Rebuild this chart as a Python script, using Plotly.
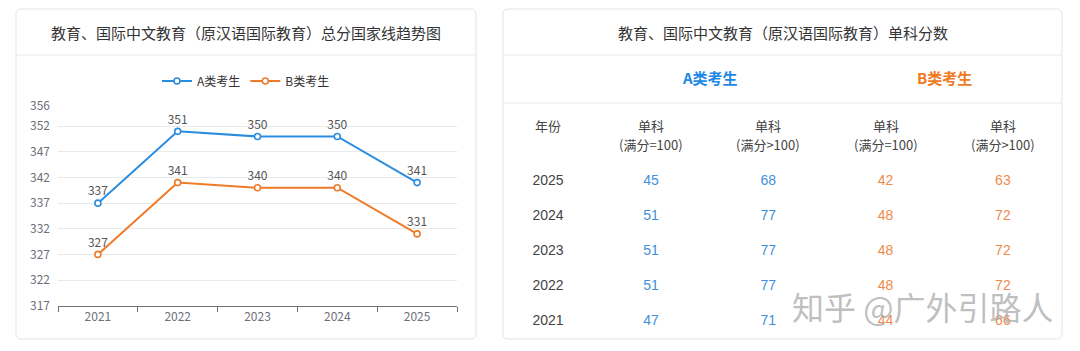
import plotly.graph_objects as go

# ---------------- data ----------------
years = ["2021", "2022", "2023", "2024", "2025"]
total_a = [337, 351, 350, 350, 341]
total_b = [327, 341, 340, 340, 331]
y_ticks = [317, 322, 327, 332, 337, 342, 347, 352, 356]

table_years = ["2025", "2024", "2023", "2022", "2021"]
a_single_100 = [45, 51, 51, 51, 47]
a_single_gt100 = [68, 77, 77, 77, 71]
b_single_100 = [42, 48, 48, 48, 44]
b_single_gt100 = [63, 72, 72, 72, 66]

col_top = ["年份", "单科", "单科", "单科", "单科"]
col_sub = ["", "(满分=100)", "(满分>100)", "(满分=100)", "(满分>100)"]
group_headers = ["A类考生", "B类考生"]
series_names = ["A类考生", "B类考生"]

chart_title = "教育、国际中文教育（原汉语国际教育）总分国家线趋势图"
table_title = "教育、国际中文教育（原汉语国际教育）单科分数"
watermark = "知乎 @广外引路人"

# ---------------- style ----------------
W, H = 1080, 351
BLUE = "#2a8de0"
ORANGE = "#ee7a2a"
T_BLUE = "#3f8fdc"
T_ORANGE = "#ef8a4a"
FONT = "Noto Sans CJK SC"
NUMFONT = "Liberation Sans, Arial, Noto Sans CJK SC"
COL_X = [0.122, 1, 2, 3, 4]


def px(x):
    return x / W


def py(y):
    return 1 - y / H


def rrect(x0, y0, x1, y1, r):
    pts = [
        ("M", [(x0 + r, y0)]), ("L", [(x1 - r, y0)]), ("Q", [(x1, y0), (x1, y0 + r)]),
        ("L", [(x1, y1 - r)]), ("Q", [(x1, y1), (x1 - r, y1)]), ("L", [(x0 + r, y1)]),
        ("Q", [(x0, y1), (x0, y1 - r)]), ("L", [(x0, y0 + r)]), ("Q", [(x0, y0), (x0 + r, y0)]),
    ]
    s = ""
    for cmd, ps in pts:
        s += cmd + " " + " ".join(f"{px(a):.5f},{py(b):.5f}" for a, b in ps) + " "
    return s + "Z"


fig = go.Figure()

# ---------------- line chart ----------------
for name, vals, col in [(series_names[0], total_a, BLUE), (series_names[1], total_b, ORANGE)]:
    fig.add_trace(go.Scatter(
        x=years, y=vals, name=name, mode="lines+markers+text",
        text=[str(v) for v in vals], textposition="top center",
        textfont=dict(family=FONT, size=12, color="#555555"),
        line=dict(color=col, width=2),
        marker=dict(symbol="circle", size=6, color="white", line=dict(color=col, width=1.6)),
        cliponaxis=False, hoverinfo="skip",
    ))

# ---------------- table (text traces on hidden axes) ----------------
rows = list(range(len(table_years)))
table_cols = [
    (table_years, "#444444"),
    ([str(v) for v in a_single_100], T_BLUE),
    ([str(v) for v in a_single_gt100], T_BLUE),
    ([str(v) for v in b_single_100], T_ORANGE),
    ([str(v) for v in b_single_gt100], T_ORANGE),
]
for k, (vals, col) in enumerate(table_cols):
    fig.add_trace(go.Scatter(
        x=[COL_X[k]] * len(vals), y=rows, text=vals, mode="text",
        textposition="middle center",
        textfont=dict(family=NUMFONT, size=14, color=col),
        xaxis="x3", yaxis="y3", showlegend=False, hoverinfo="skip", cliponaxis=False,
    ))

annotations = []
# table headers
for k in range(5):
    annotations.append(dict(x=COL_X[k], y=-1.6, xref="x3", yref="y3", text=col_top[k],
                            showarrow=False, font=dict(family=FONT, size=13, color="#444444"),
                            xanchor="center", yanchor="middle"))
    if col_sub[k]:
        annotations.append(dict(x=COL_X[k], y=-1.057, xref="x3", yref="y3", text=col_sub[k],
                                showarrow=False, font=dict(family=FONT, size=13, color="#444444"),
                                xanchor="center", yanchor="middle"))
annotations.append(dict(x=1.5, y=-2.943, xref="x3", yref="y3", text="<b>" + group_headers[0] + "</b>",
                        showarrow=False, font=dict(family=FONT, size=15, color="#1e88e5"),
                        xanchor="center", yanchor="middle"))
annotations.append(dict(x=3.5, y=-2.943, xref="x3", yref="y3", text="<b>" + group_headers[1] + "</b>",
                        showarrow=False, font=dict(family=FONT, size=15, color="#f07a1e"),
                        xanchor="center", yanchor="middle"))
# titles
annotations.append(dict(x=px(246), y=py(32), xref="paper", yref="paper", text=chart_title,
                        showarrow=False, font=dict(family=FONT, size=15, color="#333333"),
                        xanchor="center", yanchor="middle"))
annotations.append(dict(x=px(782.5), y=py(32), xref="paper", yref="paper", text=table_title,
                        showarrow=False, font=dict(family=FONT, size=15, color="#333333"),
                        xanchor="center", yanchor="middle"))
# watermark
annotations.append(dict(x=px(922), y=py(306), xref="paper", yref="paper", text=watermark,
                        showarrow=False, font=dict(family=FONT, size=32, color="rgba(170,170,170,0.75)"),
                        xanchor="center", yanchor="middle"))

shapes = [
    dict(type="path", path=rrect(16, 9, 476, 339, 5), xref="paper", yref="paper",
         line=dict(color="#e3e3e3", width=1), fillcolor="white", layer="below"),
    dict(type="path", path=rrect(503, 9, 1062, 339, 5), xref="paper", yref="paper",
         line=dict(color="#e3e3e3", width=1), fillcolor="white", layer="below"),
    dict(type="line", x0=px(16), x1=px(476), y0=py(55), y1=py(55), xref="paper", yref="paper",
         line=dict(color="#e8e8e8", width=1)),
    dict(type="line", x0=px(503), x1=px(1062), y0=py(55), y1=py(55), xref="paper", yref="paper",
         line=dict(color="#e8e8e8", width=1)),
    dict(type="line", x0=px(503), x1=px(1062), y0=py(103), y1=py(103), xref="paper", yref="paper",
         line=dict(color="#e8e8e8", width=1)),
]

fig.update_layout(
    width=W, height=H,
    margin=dict(l=0, r=0, t=0, b=0, pad=0, autoexpand=False),
    paper_bgcolor="white", plot_bgcolor="rgba(0,0,0,0)",
    font=dict(family=FONT),
    showlegend=True,
    legend=dict(orientation="h", x=px(246), xanchor="center", y=py(81), yanchor="middle",
                font=dict(family=FONT, size=12, color="#333333"), itemwidth=30,
                bgcolor="rgba(0,0,0,0)", tracegroupgap=0),
    xaxis=dict(domain=[px(58), px(457)], type="category", range=[-0.5, 4.5],
               showline=True, linecolor="#6e7079", linewidth=1,
               ticks="outside", tickson="boundaries", ticklen=5, tickcolor="#6e7079",
               tickfont=dict(family=FONT, size=12, color="#6e7079"), showgrid=False,
               fixedrange=True, anchor="y", automargin=False),
    yaxis=dict(domain=[py(305.7), py(105.7)], range=[317, 356], tickvals=y_ticks,
               ticktext=[str(v) for v in y_ticks], ticklabelstandoff=7,
               showgrid=True, gridcolor="#e9e9e9", gridwidth=1, zeroline=False, showline=False,
               tickfont=dict(family=FONT, size=12, color="#6e7079"), ticks="", fixedrange=True,
               anchor="x", automargin=False),
    xaxis3=dict(domain=[px(503), px(1062)], range=[-0.262, 4.504], visible=False, anchor="y3",
                fixedrange=True, automargin=False),
    yaxis3=dict(domain=[py(339), py(9)], range=[4.514, -4.914], visible=False, anchor="x3",
                fixedrange=True, automargin=False),
    annotations=annotations,
    shapes=shapes,
)

fig.write_html("out.html")
